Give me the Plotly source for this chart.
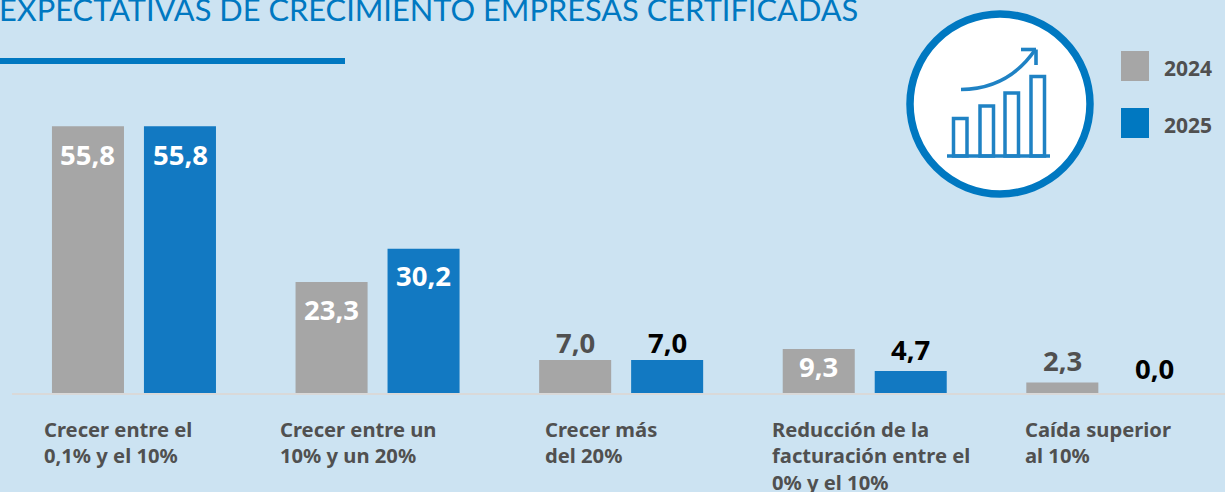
import plotly.graph_objects as go

W, H = 1225, 492
FONT = "Noto Sans"
TITLE_FONT = "Lato"
GREY, BLUE, ACCENT, INK = "#A6A6A6", "#1279C2", "#0078C1", "#505050"
ICON = "#1F82C4"
BG = "#CCE3F2"

series_names = ["2024", "2025"]
categories = ["Crecer entre el<br>0,1% y el 10%", "Crecer entre un<br>10% y un 20%", "Crecer más<br>del 20%",
              "Reducción de la<br>facturación entre el<br>0% y el 10%", "Caída superior<br>al 10%"]
values_2024 = [55.8, 23.3, 7.0, 9.3, 2.3]
values_2025 = [55.8, 30.2, 7.0, 4.7, 0.0]
labels_2024 = ["55,8", "23,3", "7,0", "9,3", "2,3"]
labels_2025 = ["55,8", "30,2", "7,0", "4,7", "0,0"]
label_shift_2024 = [-28, -28, 17, -18, 22]
label_shift_2025 = [-28, -27, 17, 22, 25]
label_color_2024 = ["white", "white", INK, "white", INK]
label_color_2025 = ["white", "white", "black", "black", "black"]
category_left_px = [42, 278, 543, 770, 1023]
title = "EXPECTATIVAS DE CRECIMIENTO EMPRESAS CERTIFICADAS"

xs = list(range(len(categories)))
fig = go.Figure()
fig.add_bar(x=xs, y=values_2024, name=series_names[0], marker_color=GREY, marker_line_width=0)
fig.add_bar(x=xs, y=values_2025, name=series_names[1], marker_color=BLUE, marker_line_width=0)

def px(v): return v / W
def py(v): return 1 - v / H

shapes, annotations = [], []
def rect(x0, y0, x1, y1, fill="rgba(0,0,0,0)", line=None, lw=0, layer="above"):
    shapes.append(dict(type="rect", xref="paper", yref="paper", x0=px(x0), x1=px(x1), y0=py(y1), y1=py(y0),
                       fillcolor=fill, line=dict(color=line or fill, width=lw), layer=layer))
def seg(x0, y0, x1, y1, color, lw):
    shapes.append(dict(type="line", xref="paper", yref="paper", x0=px(x0), x1=px(x1), y0=py(y0), y1=py(y1),
                       line=dict(color=color, width=lw), layer="above"))

# axis line and title rule
seg(12, 394, W, 394, "#D9D9D9", 2)
rect(0, 58, 345, 64, ACCENT)

# icon
shapes.append(dict(type="circle", xref="paper", yref="paper", x0=px(910), x1=px(1090), y0=py(194), y1=py(14),
                   fillcolor="white", line=dict(color=ACCENT, width=7.5), layer="above"))
for x0, top in [(953.5, 118.5), (980, 106), (1005, 93), (1031, 76.5)]:
    rect(x0, top, x0 + 13.5, 156, "rgba(0,0,0,0)", ICON, 3.5)
seg(947, 156, 1050, 156, ICON, 3.5)
shapes.append(dict(type="path", xref="paper", yref="paper", layer="above",
                   path=f"M {px(961)} {py(89.5)} Q {px(1008)} {py(89)} {px(1035)} {py(50)}",
                   line=dict(color=ICON, width=3.6)))
seg(1021, 49.5, 1036, 49.5, ICON, 3.6)
seg(1036, 49.5, 1036, 65, ICON, 3.6)

# legend
for top, color, name in [(51, GREY, series_names[0]), (108, ACCENT, series_names[1])]:
    rect(1121, top, 1149, top + 30, color)
    annotations.append(dict(xref="paper", yref="paper", x=px(1162), y=py(top + 17), text=name, showarrow=False,
                            xanchor="left", yanchor="middle", font=dict(family=FONT, size=21, color=INK, weight=700)))

# title
annotations.append(dict(xref="paper", yref="paper", x=px(-3), y=py(9), text=title, showarrow=False,
                        xanchor="left", yanchor="middle", font=dict(family=TITLE_FONT, size=30.8, color=ACCENT)))

# value labels
OFFSET = 0.189
for i in xs:
    for off, vals, labs, shifts, cols in [(-OFFSET, values_2024, labels_2024, label_shift_2024, label_color_2024),
                                          (OFFSET, values_2025, labels_2025, label_shift_2025, label_color_2025)]:
        annotations.append(dict(x=i + off, y=vals[i], text=labs[i], showarrow=False, yshift=shifts[i],
                                xanchor="center", yanchor="middle",
                                font=dict(family=FONT, size=27.5, color=cols[i], weight=700)))

# category labels
for left, cat in zip(category_left_px, categories):
    annotations.append(dict(xref="paper", yref="paper", x=px(left), y=py(412.5), text=cat, showarrow=False,
                            xanchor="left", yanchor="top", align="left",
                            font=dict(family=FONT, size=20.2, color=INK, weight=700)))

fig.update_layout(
    width=W, height=H, margin=dict(l=0, r=0, t=0, b=0), autosize=False,
    paper_bgcolor=BG, plot_bgcolor=BG, showlegend=False,
    barmode="group", bargap=0.2447, bargroupgap=0.217,
    xaxis=dict(range=[-0.55, 4.479], visible=False),
    yaxis=dict(range=[-20.56, 82.15], visible=False),
    shapes=shapes, annotations=annotations,
)
fig.write_html("out.html", config=dict(displayModeBar=False),
               post_script="document.documentElement.style.margin='0';document.body.style.margin='0';document.body.style.overflow='hidden';")
